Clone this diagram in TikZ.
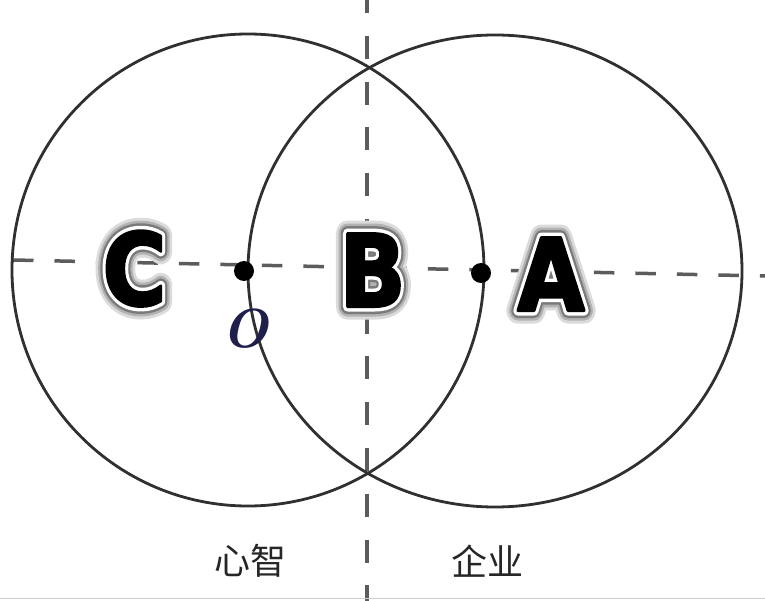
\documentclass[tikz,border=0pt]{standalone}
\usepackage{fontspec}
\usepackage{graphicx}
\newfontfamily\cjkfont{Noto Sans CJK SC}
% stroked copies of the heavy face, from the glow to the black letter
\newfontfamily\glowfontA{DejaVu Sans Bold}[FakeBold=26]
\newfontfamily\glowfontB{DejaVu Sans Bold}[FakeBold=20]
\newfontfamily\glowfontC{DejaVu Sans Bold}[FakeBold=15]
\newfontfamily\whitefont{DejaVu Sans Bold}[FakeBold=10]
\newfontfamily\blackfont{DejaVu Sans Bold}[FakeBold=3]
\definecolor{ringgray}{HTML}{303030}
\definecolor{dashgray}{HTML}{5C5C5C}
\definecolor{onavy}{rgb}{0.12,0.12,0.30}

% one layer of the glowing capital
\newcommand{\glowlayer}[3]{\makebox[0pt]{#1\color{#2}#3}}
\newcommand{\glowletter}[1]{%
  \scalebox{0.87}[1]{%
    \glowlayer{\glowfontA}{black!14}{#1}%
    \glowlayer{\glowfontB}{black!30}{#1}%
    \glowlayer{\glowfontC}{black!52}{#1}%
    \glowlayer{\whitefont}{white}{#1}%
    \glowlayer{\blackfont}{black}{#1}}}

\tikzset{
  ring/.style={draw=ringgray, line width=2.8pt},
  hdash/.style={draw=dashgray, line width=3.5pt, dash pattern=on 20.5pt off 21pt},
  vdash/.style={draw=dashgray, line width=3.5pt, dash pattern=on 23pt off 22.8pt, dash phase=10pt},
  centre/.style={circle, fill=black, minimum size=20pt, inner sep=0pt},
  bigletter/.style={inner sep=0pt, anchor=base, line join=round, font=\fontsize{100}{100}\selectfont},
  olabel/.style={inner sep=0pt, text=onavy, font=\fontsize{55}{55}\selectfont\bfseries\itshape},
  cjklabel/.style={inner sep=0pt, text=black!85, font=\cjkfont\fontsize{36}{36}\selectfont},
}

\begin{document}
\begin{tikzpicture}[x=1pt, y=-1pt]
    % Fix the frame
    \useasboundingbox (0,0) rectangle (765,601);
    \fill[white] (0,0) rectangle (765,601);

    % Key points
    \coordinate (cL) at (248,270);
    \coordinate (cR) at (495,271);
    \coordinate (hStart) at (13,260);
    \coordinate (hEnd) at (765,276);
    \coordinate (vStart) at (367,0);
    \coordinate (vEnd) at (367,601);

    % Draw the dashed axes
    \draw[hdash] (hStart) -- (hEnd);
    \draw[vdash] (vStart) -- (vEnd);

    % Draw the circles
    \draw[ring] (cL) circle [radius=236];
    \draw[ring] (cR) ellipse [x radius=247, y radius=236];

    % Mark the centres
    \node[centre] (dotO) at (244,271) {};
    \node[centre] (dotA) at (481,273) {};
    \node[olabel] (labelO) at (245,329) {O};

    % Big letters
    \node[bigletter] (letterC) at (134.5,305) {\glowletter{C}};
    \node[bigletter] (letterB) at (372.5,306.5) {\glowletter{B}};
    \node[bigletter] (letterA) at (551,310.5) {\glowletter{A}};

    % Captions
    \node[cjklabel] (mind) at (250,561) {心智};
    \node[cjklabel] (firm) at (487,561) {企业};

    % Bottom edge
    \draw[black!20, line width=1pt] (0,598) -- (765,598);
\end{tikzpicture}
\end{document}
